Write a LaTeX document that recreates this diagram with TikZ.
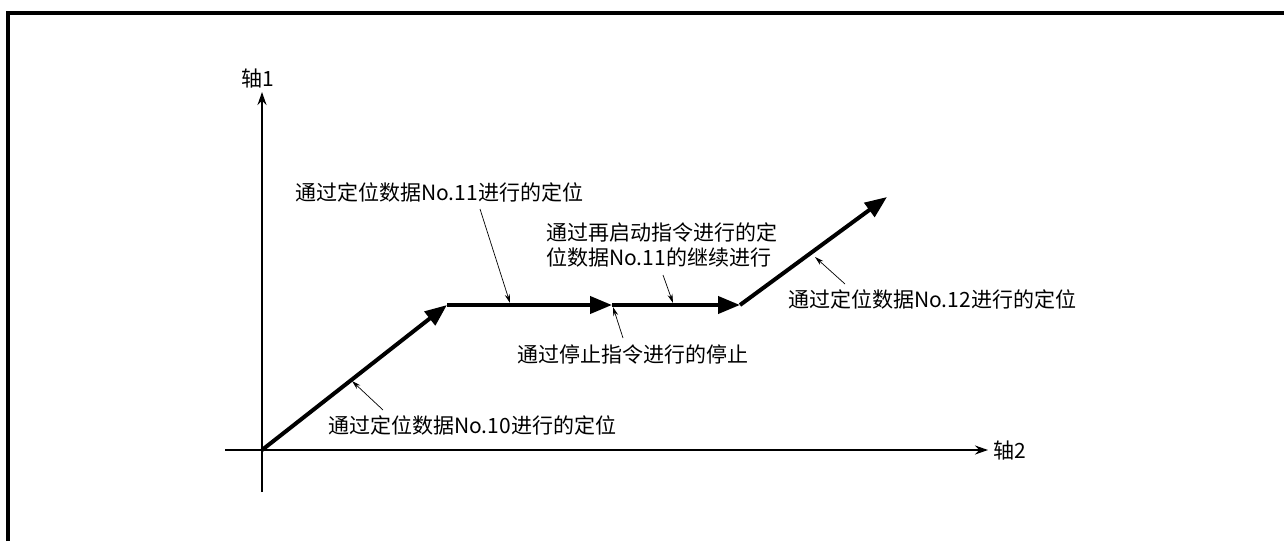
\documentclass[tikz,border=0pt]{standalone}
\usepackage{fontspec}
\setmainfont{Noto Sans CJK SC}
\usetikzlibrary{arrows.meta}
\begin{document}
\begin{tikzpicture}[x=1pt,y=-1pt,
  txt/.style={font=\fontsize{21}{25}\selectfont, inner sep=0pt, anchor=west},
  axisline/.style={line width=1.8pt, -{Stealth[length=13pt,width=9pt]}},
  moveseg/.style={line width=4pt, -{Triangle[length=22pt,width=17pt]}},
  pointer/.style={line width=0.7pt, -{Stealth[length=9pt,width=5pt]}},
  frameline/.style={line width=4pt}]
\useasboundingbox (0,0) rectangle (1284,541);
% frame
\draw[frameline] (8,541) -- (8,13) -- (1284,13);
% axes
\coordinate (ybot) at (262,492);
\coordinate (ytop) at (262,92);
\coordinate (xleft) at (225,450);
\coordinate (xright) at (988,450);
\draw[axisline] (ybot) -- (ytop);
\draw[axisline] (xleft) -- (xright);
\node[txt, anchor=south] (ax1) at (258,88) {轴1};
\node[txt] (ax2) at (993,451) {轴2};
% movement path
\coordinate (O) at (262,450);
\coordinate (P1) at (447,305);
\coordinate (P2) at (612,305);
\coordinate (P3) at (740,305);
\coordinate (P4) at (887,197);
\draw[moveseg] (O) -- (P1);
\draw[moveseg] (P1) -- (P2);
\draw[moveseg] (P2) -- (P3);
\draw[moveseg] (P3) -- (P4);
% labels
\node[txt] (l10) at (328,425) {通过定位数据No.10进行的定位};
\node[txt] (l11) at (295,192) {通过定位数据No.11进行的定位};
\node[txt, align=left] (lre) at (546,244.5) {通过再启动指令进行的定\\位数据No.11的继续进行};
\node[txt] (lstop) at (517,355) {通过停止指令进行的停止};
\node[txt] (l12) at (788,299) {通过定位数据No.12进行的定位};
% pointer ends
\coordinate (s10) at (383,410); \coordinate (t10) at (352,381);
\coordinate (s11) at (480,209); \coordinate (t11) at (510,303);
\coordinate (sre) at (663,275); \coordinate (tre) at (673,303);
\coordinate (sst) at (623,338); \coordinate (tst) at (613,307);
\coordinate (s12) at (845,284); \coordinate (t12) at (815,257);
\draw[pointer] (s10) -- (t10);
\draw[pointer] (s11) -- (t11);
\draw[pointer] (sre) -- (tre);
\draw[pointer] (sst) -- (tst);
\draw[pointer] (s12) -- (t12);
\end{tikzpicture}
\end{document}
